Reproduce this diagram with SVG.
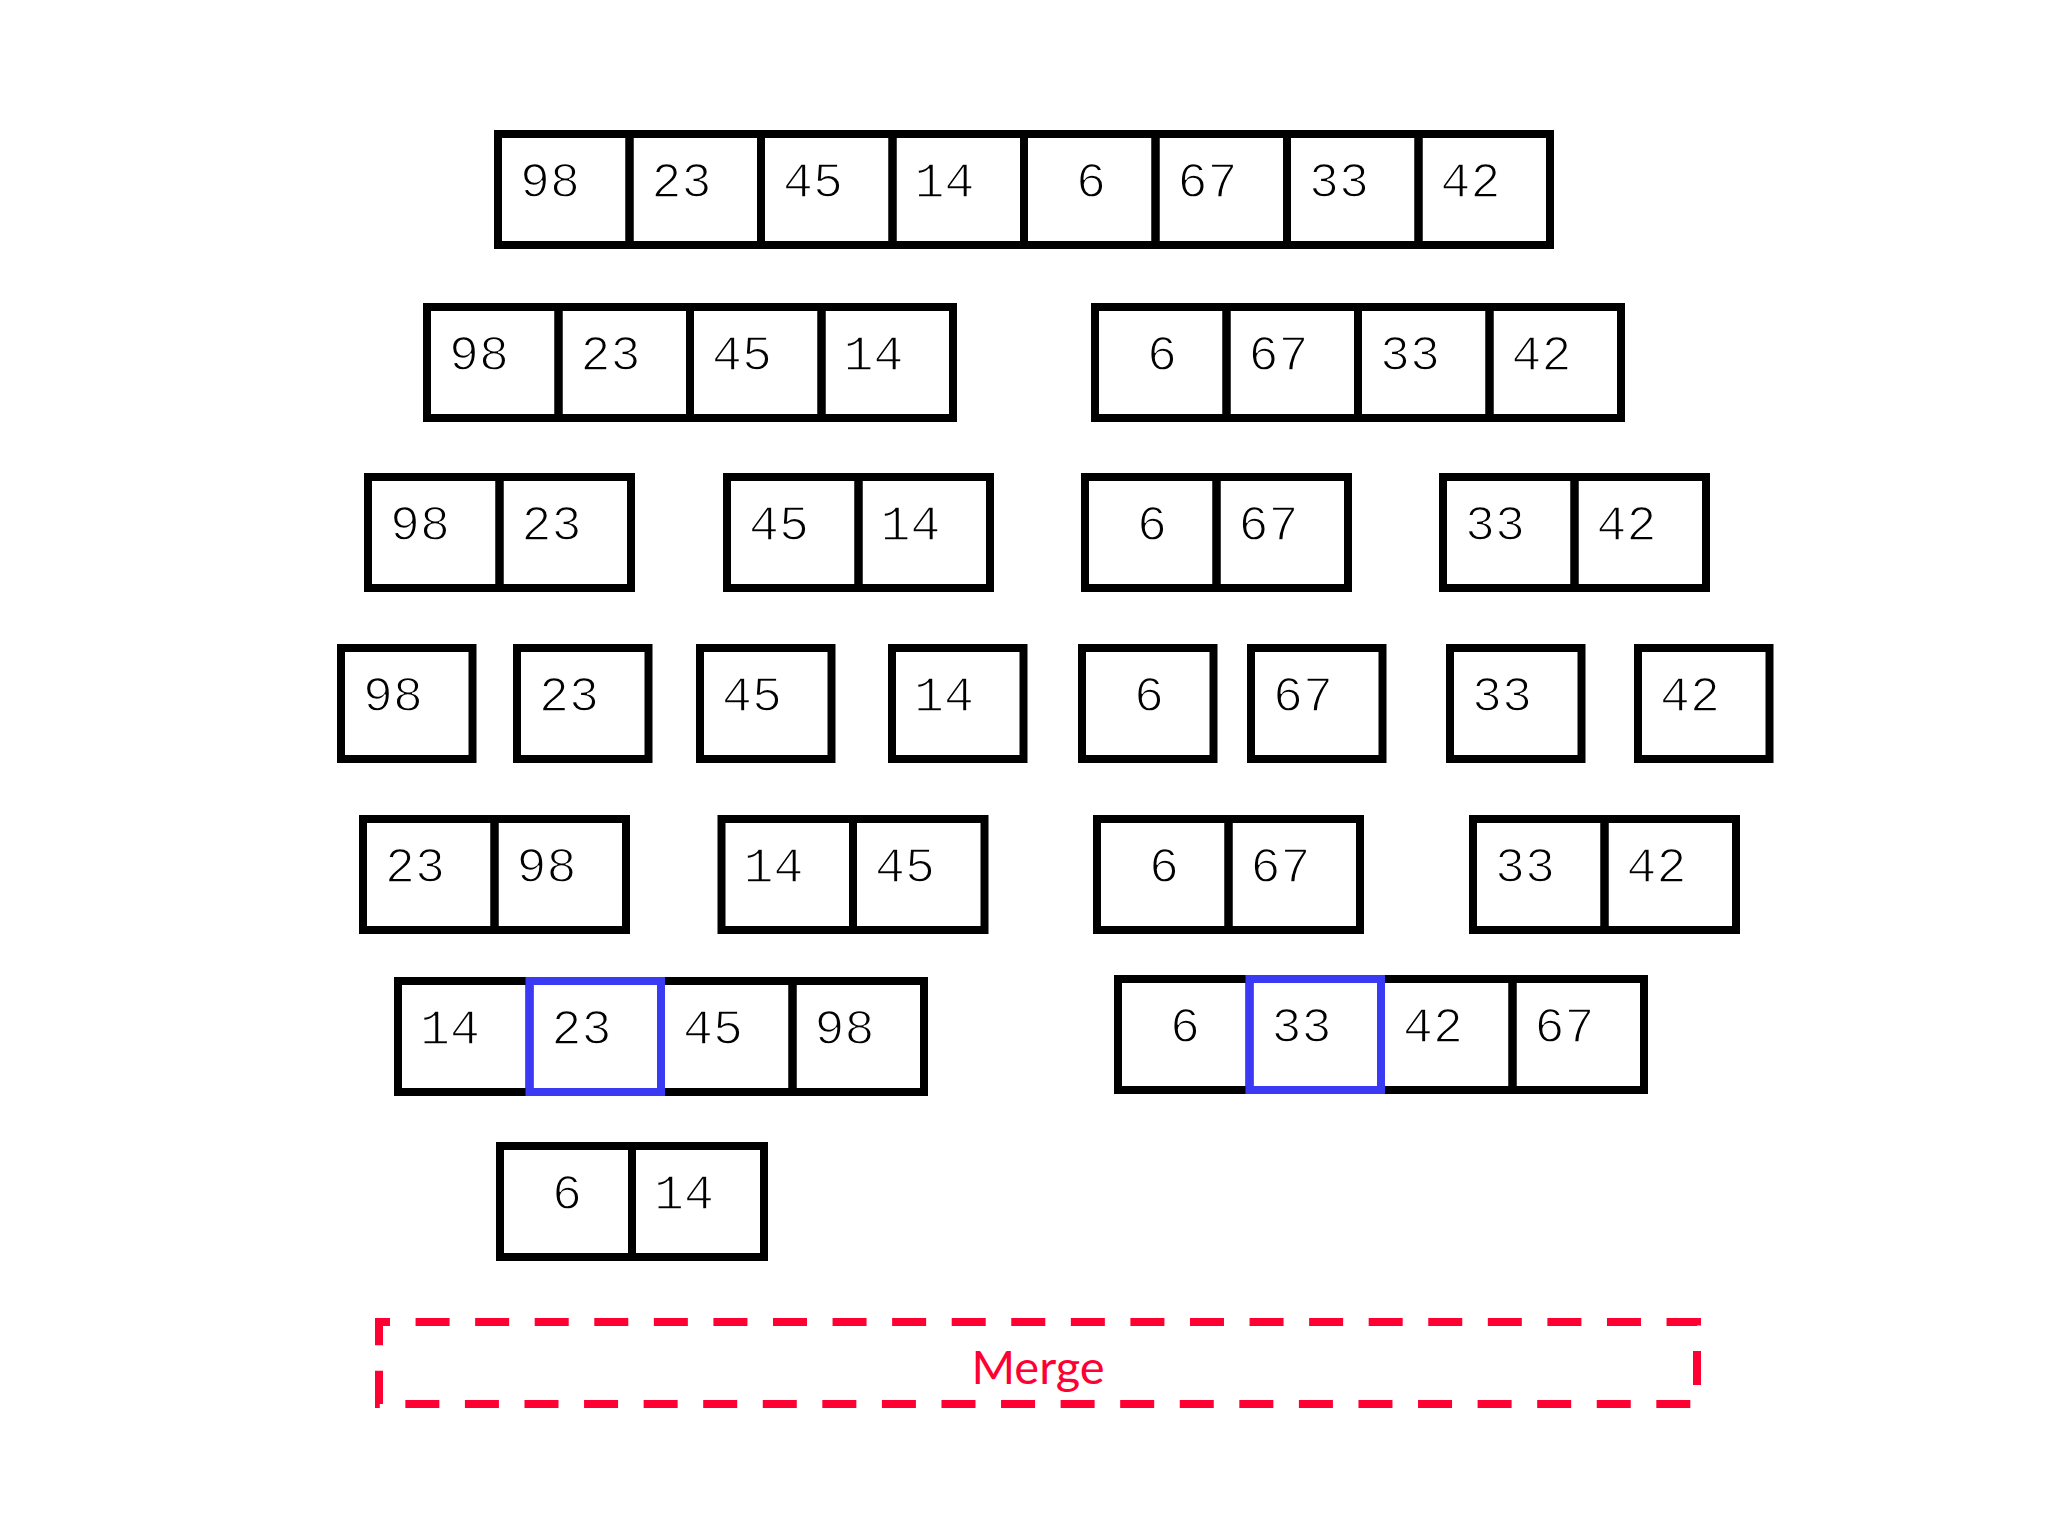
<svg xmlns="http://www.w3.org/2000/svg" width="2048" height="1536" viewBox="0 0 2048 1536">
<style>
.c{fill:none;stroke:#000;stroke-width:8}
.h{fill:none;stroke:#3a3af5;stroke-width:8}
.t{font-family:"Liberation Mono","DejaVu Sans Mono",monospace;font-size:50px;fill:#000;stroke:#fff;stroke-width:1.4}
.m{fill:none;stroke:#ff0033;stroke-width:8;stroke-dasharray:34 25.57;stroke-dashoffset:23}
.ml{font-family:Lato,"Open Sans",sans-serif;font-size:47px;fill:#ff0033}
</style>
<rect width="2048" height="1536" fill="#fff"/>
<g id="connectors"></g>

<g id="row1">
<rect class="c" x="498" y="134" width="131.5" height="111"/>
<rect class="c" x="629.5" y="134" width="131.5" height="111"/>
<rect class="c" x="761" y="134" width="131.5" height="111"/>
<rect class="c" x="892.5" y="134" width="131.5" height="111"/>
<rect class="c" x="1024" y="134" width="131.5" height="111"/>
<rect class="c" x="1155.5" y="134" width="131.5" height="111"/>
<rect class="c" x="1287" y="134" width="131.5" height="111"/>
<rect class="c" x="1418.5" y="134" width="131.5" height="111"/>
<text class="t" x="520" y="197">98</text>
<text class="t" x="651.5" y="197">23</text>
<text class="t" x="783" y="197">45</text>
<text class="t" x="914.5" y="197">14</text>
<text class="t" x="1076" y="197">6</text>
<text class="t" x="1177.5" y="197">67</text>
<text class="t" x="1309" y="197">33</text>
<text class="t" x="1440.5" y="197">42</text>
</g>

<g id="row2-left">
<rect class="c" x="427" y="307" width="131.5" height="111"/>
<rect class="c" x="558.5" y="307" width="131.5" height="111"/>
<rect class="c" x="690" y="307" width="131.5" height="111"/>
<rect class="c" x="821.5" y="307" width="131.5" height="111"/>
<text class="t" x="449" y="370">98</text>
<text class="t" x="580.5" y="370">23</text>
<text class="t" x="712" y="370">45</text>
<text class="t" x="843.5" y="370">14</text>
</g>
<g id="row2-right">
<rect class="c" x="1095" y="307" width="131.5" height="111"/>
<rect class="c" x="1226.5" y="307" width="131.5" height="111"/>
<rect class="c" x="1358" y="307" width="131.5" height="111"/>
<rect class="c" x="1489.5" y="307" width="131.5" height="111"/>
<text class="t" x="1147" y="370">6</text>
<text class="t" x="1248.5" y="370">67</text>
<text class="t" x="1380" y="370">33</text>
<text class="t" x="1511.5" y="370">42</text>
</g>

<g id="row3-a">
<rect class="c" x="368" y="477" width="131.5" height="111"/>
<rect class="c" x="499.5" y="477" width="131.5" height="111"/>
<text class="t" x="390" y="540">98</text>
<text class="t" x="521.5" y="540">23</text>
</g>
<g id="row3-b">
<rect class="c" x="727" y="477" width="131.5" height="111"/>
<rect class="c" x="858.5" y="477" width="131.5" height="111"/>
<text class="t" x="749" y="540">45</text>
<text class="t" x="880.5" y="540">14</text>
</g>
<g id="row3-c">
<rect class="c" x="1085" y="477" width="131.5" height="111"/>
<rect class="c" x="1216.5" y="477" width="131.5" height="111"/>
<text class="t" x="1137" y="540">6</text>
<text class="t" x="1238.5" y="540">67</text>
</g>
<g id="row3-d">
<rect class="c" x="1443" y="477" width="131.5" height="111"/>
<rect class="c" x="1574.5" y="477" width="131.5" height="111"/>
<text class="t" x="1465" y="540">33</text>
<text class="t" x="1596.5" y="540">42</text>
</g>

<g id="row4-98"><rect class="c" x="341" y="648" width="131.5" height="111"/><text class="t" x="363" y="711">98</text></g>
<g id="row4-23"><rect class="c" x="517" y="648" width="131.5" height="111"/><text class="t" x="539" y="711">23</text></g>
<g id="row4-45"><rect class="c" x="700" y="648" width="131.5" height="111"/><text class="t" x="722" y="711">45</text></g>
<g id="row4-14"><rect class="c" x="892" y="648" width="131.5" height="111"/><text class="t" x="914" y="711">14</text></g>
<g id="row4-6"><rect class="c" x="1082" y="648" width="131.5" height="111"/><text class="t" x="1134" y="711">6</text></g>
<g id="row4-67"><rect class="c" x="1251" y="648" width="131.5" height="111"/><text class="t" x="1273" y="711">67</text></g>
<g id="row4-33"><rect class="c" x="1450" y="648" width="131.5" height="111"/><text class="t" x="1472" y="711">33</text></g>
<g id="row4-42"><rect class="c" x="1638" y="648" width="131.5" height="111"/><text class="t" x="1660" y="711">42</text></g>

<g id="row5-a">
<rect class="c" x="363" y="819" width="131.5" height="111"/>
<rect class="c" x="494.5" y="819" width="131.5" height="111"/>
<text class="t" x="385" y="882">23</text>
<text class="t" x="516.5" y="882">98</text>
</g>
<g id="row5-b">
<rect class="c" x="721.5" y="819" width="131.5" height="111"/>
<rect class="c" x="853" y="819" width="131.5" height="111"/>
<text class="t" x="743.5" y="882">14</text>
<text class="t" x="875" y="882">45</text>
</g>
<g id="row5-c">
<rect class="c" x="1097" y="819" width="131.5" height="111"/>
<rect class="c" x="1228.5" y="819" width="131.5" height="111"/>
<text class="t" x="1149" y="882">6</text>
<text class="t" x="1250.5" y="882">67</text>
</g>
<g id="row5-d">
<rect class="c" x="1473" y="819" width="131.5" height="111"/>
<rect class="c" x="1604.5" y="819" width="131.5" height="111"/>
<text class="t" x="1495" y="882">33</text>
<text class="t" x="1626.5" y="882">42</text>
</g>

<g id="row6-left">
<rect class="c" x="398" y="981" width="131.5" height="111"/>
<rect class="c" x="661" y="981" width="131.5" height="111"/>
<rect class="c" x="792.5" y="981" width="131.5" height="111"/>
<rect class="h" x="529.5" y="981" width="131.5" height="111"/>
<text class="t" x="420" y="1044">14</text>
<text class="t" x="551.5" y="1044">23</text>
<text class="t" x="683" y="1044">45</text>
<text class="t" x="814.5" y="1044">98</text>
</g>
<g id="row6-right">
<rect class="c" x="1118" y="979" width="131.5" height="111"/>
<rect class="c" x="1381" y="979" width="131.5" height="111"/>
<rect class="c" x="1512.5" y="979" width="131.5" height="111"/>
<rect class="h" x="1249.5" y="979" width="131.5" height="111"/>
<text class="t" x="1170" y="1042">6</text>
<text class="t" x="1271.5" y="1042">33</text>
<text class="t" x="1403" y="1042">42</text>
<text class="t" x="1534.5" y="1042">67</text>
</g>

<g id="row7">
<rect class="c" x="500" y="1146" width="132" height="111"/>
<rect class="c" x="632" y="1146" width="132" height="111"/>
<text class="t" x="552" y="1209">6</text>
<text class="t" x="654" y="1209">14</text>
</g>

<g id="merge">
<rect class="m" x="379" y="1322" width="1318" height="82"/>
<text class="ml" x="1038" y="1384" text-anchor="middle">Merge</text>
</g>
</svg>
